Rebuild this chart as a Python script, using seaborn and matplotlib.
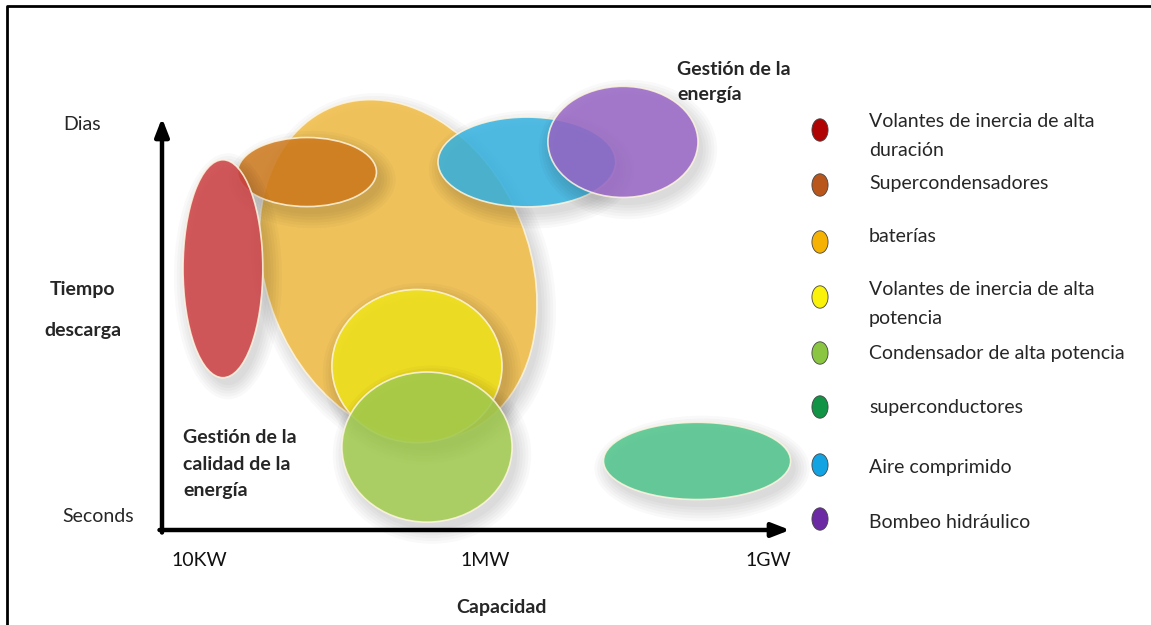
import numpy as np
import matplotlib.pyplot as plt
from matplotlib.patches import Ellipse
import seaborn as sns

# Tecnologías de almacenamiento (orden de la leyenda)
tecnologias = ['Volantes de inercia de alta\nduración', 'Supercondensadores', 'baterías',
               'Volantes de inercia de alta\npotencia', 'Condensador de alta potencia',
               'superconductores', 'Aire comprimido', 'Bombeo hidráulico']

# Elipses: centro (capacidad, tiempo de descarga), ancho, alto y giro, en unidades del esquema
centro_cap = [9.7, 23.1, 37.6, 40.6, 42.2, 85.2, 58.1, 73.4]
centro_tiempo = [41.6, 57.0, 41.4, 26.1, 13.2, 11.0, 58.6, 61.8]
ancho = [12.7, 22.1, 42.0, 27.1, 27.1, 29.8, 28.3, 23.9]
alto = [34.7, 11.0, 56.0, 24.4, 23.9, 12.3, 14.3, 17.7]
giro = [0, 0, 22, 0, 0, 0, 0, 0]

colores_elipse = ['#cc3f42', '#cf7a1c', '#f2bd45', '#f2e61c', '#a2cc4e',
                  '#4fc48b', '#35b3e2', '#9866c6']
colores_punto = ['#b00404', '#b8561c', '#f6b202', '#fbf20a', '#8ac642',
                 '#119445', '#12a3e3', '#6b2aa3']
capas = [3, 2, 1, 4, 5, 8, 6, 7]

capacidad_ticks = [5.9, 51.4, 96.5]
capacidad_labels = ['10KW', '1MW', '1GW']

sns.set_theme(style='white')
plt.rcParams['font.family'] = ['Lato', 'DejaVu Sans']

W, H = 1151, 625
fig = plt.figure(figsize=(W / 100, H / 100), dpi=100)

# ejes principales: origen en (162, 530) px, 6.28 px por unidad
px = 6.28
x0, y0 = 162, 530
xmin, xmax, ymin, ymax = -6, 108, -8, 76
ax = fig.add_axes([(x0 + xmin * px) / W, (H - y0 + ymin * px) / H,
                   (xmax - xmin) * px / W, (ymax - ymin) * px / H])
ax.set_xlim(xmin, xmax)
ax.set_ylim(ymin, ymax)
ax.axis('off')

for i in range(len(tecnologias)):
    z = capas[i] * 2
    # sombra difusa
    for k in range(6):
        ax.add_patch(Ellipse((centro_cap[i] + 0.8, centro_tiempo[i] - 1.2),
                             ancho[i] + 0.9 * k, alto[i] + 0.9 * k, angle=giro[i],
                             facecolor='black', alpha=0.024, lw=0, zorder=z - 1))
    ax.add_patch(Ellipse((centro_cap[i], centro_tiempo[i]), ancho[i], alto[i], angle=giro[i],
                         facecolor=colores_elipse[i], alpha=0.85,
                         edgecolor='#fff6e0', lw=1.2, zorder=z))

# flechas de los ejes
flecha = dict(arrowstyle='-|>,head_length=0.9,head_width=0.35', lw=3.2, color='black',
              shrinkA=0, shrinkB=0)
ax.annotate('', xy=(0, (y0 - 118) / px), xytext=(0, -0.4), arrowprops=flecha, zorder=30)
ax.annotate('', xy=(100, 0), xytext=(-0.4, 0), arrowprops=flecha, zorder=30)

for xt, lab in zip(capacidad_ticks, capacidad_labels):
    ax.text(xt, -30 / px, lab, ha='center', va='center', fontsize=14, color='#111111')

# capa superior en píxeles: marco, textos y leyenda
top = fig.add_axes([0, 0, 1, 1])
top.patch.set_alpha(0)
top.set_xlim(0, W)
top.set_ylim(H, 0)
top.axis('off')
top.plot([7, 7, W], [H, 6, 6], color='black', lw=2)

top.text(82, 125, 'Dias', ha='center', va='center', fontsize=14)
top.text(83, 310, 'Tiempo\ndescarga', ha='center', va='center', fontsize=14,
         fontweight='bold', linespacing=2.72)
top.text(98, 517, 'Seconds', ha='center', va='center', fontsize=14)
top.text(502, 608, 'Capacidad', ha='center', va='center', fontsize=14, fontweight='bold')
top.text(677, 82, 'Gestión de la\nenergía', ha='left', va='center', fontsize=14,
         fontweight='bold', linespacing=1.55)
top.text(183, 464, 'Gestión de la\ncalidad de la\nenergía', ha='left', va='center',
         fontsize=14, fontweight='bold', linespacing=1.65)

fila_punto = [130, 185, 242, 297, 353, 407, 465, 519]
fila_texto = [136, 183, 237, 304, 353, 407, 468, 523]
t = np.linspace(0, 2 * np.pi, 60)
marca = list(zip(0.72 * np.cos(t), np.sin(t)))
sns.scatterplot(x=[820] * len(tecnologias), y=fila_punto, hue=tecnologias,
                palette=colores_punto, marker=marca, s=260, edgecolor='#444444',
                linewidth=0.6, legend=False, ax=top)
for lab, yt in zip(tecnologias, fila_texto):
    top.text(869, yt, lab, ha='left', va='center', fontsize=14, linespacing=1.86)
top.set_xlim(0, W)
top.set_ylim(H, 0)

fig.savefig('out.png', dpi=100)
